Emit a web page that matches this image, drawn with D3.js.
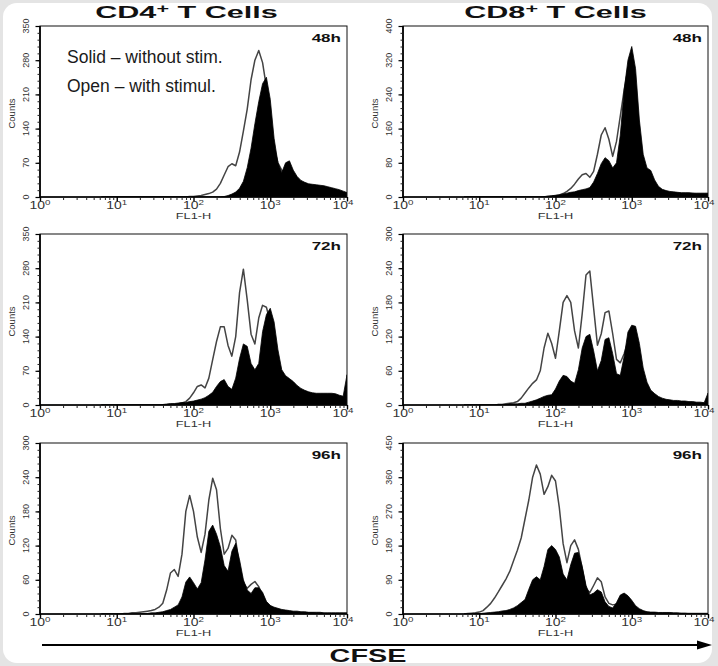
<!DOCTYPE html>
<html>
<head>
<meta charset="utf-8">
<script src="https://cdn.jsdelivr.net/npm/d3@7"></script>
<style>
  body { margin: 0; background: #e4e4e4; }
  svg text { font-family: "Liberation Sans", Arial, Helvetica, sans-serif; }
</style>
</head>
<body>
<div id="chart"></div>
<script>
// FL1-H histogram bins, log10 scale from 10^0.8 to 10^4 in 0.05 steps
const binLog = d3.range(0, 65).map(i => 0.8 + i * 0.05);

// Counts per bin (open = with stimulation, solid = without stimulation)
const cd4_48h_open = [
  0,0,0,0,0,0,0,0,0,0,
  0,0,0,0,0,0,0,0,0,0,
  0,0,0,1,1,2,3,5,7,10,
  16,28,45,62,68,64,92,135,180,240,
  280,300,275,225,160,100,70,55,45,35,
  28,22,20,18,16,14,13,12,11,10,
  9,8,7,6,5];
const cd4_48h_solid = [
  0,0,0,0,0,0,0,0,0,0,
  0,0,0,0,0,0,0,0,0,0,
  0,0,0,0,0,0,0,0,0,0,
  0,0,1,3,6,10,18,32,60,100,
  150,195,232,245,200,120,70,50,70,74,
  55,42,34,30,27,26,25,24,23,21,
  19,17,15,12,9];
const cd8_48h_open = [
  0,0,0,0,0,0,0,0,0,0,
  0,0,0,0,0,0,0,0,0,0,
  0,0,1,2,3,5,8,13,20,30,
  42,52,55,46,60,100,145,162,135,95,
  130,190,250,300,330,260,150,80,50,35,
  25,18,14,12,10,9,9,8,8,8,
  8,7,7,7,7];
const cd8_48h_solid = [
  0,0,0,0,0,0,0,0,0,0,
  0,0,0,0,0,0,0,0,0,0,
  0,1,2,3,4,5,7,9,11,12,
  15,17,19,22,35,55,78,92,85,68,
  80,145,250,320,352,300,180,100,68,62,
  40,25,18,15,13,12,11,10,10,10,
  9,9,9,9,9];
const cd4_72h_open = [
  0,0,0,0,0,0,0,0,0,0,
  0,0,0,0,0,0,0,0,0,1,
  2,4,7,14,25,38,41,35,55,93,
  130,160,160,122,100,140,230,278,215,145,
  125,178,204,200,170,120,80,55,42,35,
  28,24,20,18,16,15,14,13,13,12,
  12,12,11,11,11];
const cd4_72h_solid = [
  0,0,0,0,0,0,0,0,0,0,
  0,0,0,0,0,0,1,2,3,3,
  4,5,5,7,8,10,12,15,20,26,
  38,48,52,38,32,55,95,125,120,85,
  72,85,150,185,198,170,113,72,60,54,
  48,40,34,30,27,25,24,24,24,24,
  24,23,20,18,62];
const cd8_72h_open = [
  0,0,0,0,0,0,0,0,0,1,
  1,2,3,4,6,12,21,30,38,44,
  60,100,126,108,82,130,180,192,180,130,
  100,160,228,235,170,105,125,162,165,125,
  80,74,90,110,115,100,70,40,25,18,
  12,9,7,6,5,5,4,4,4,4,
  3,3,3,3,3];
const cd8_72h_solid = [
  0,0,0,0,0,0,0,0,0,1,
  1,1,2,2,2,3,3,5,7,9,
  12,15,17,18,28,42,52,50,42,38,
  62,100,120,124,95,60,78,115,118,90,
  55,52,85,128,140,138,108,65,40,26,
  20,15,12,10,9,8,8,7,7,6,
  6,5,5,4,21];
const cd4_96h_open = [
  0,0,0,0,0,0,1,1,2,2,
  3,4,5,6,8,12,19,42,72,78,
  66,105,180,208,180,135,108,140,200,238,
  218,150,105,115,138,130,80,55,45,52,
  57,48,33,20,14,10,7,6,5,4,
  3,3,2,2,2,2,1,1,1,1,
  1,1,1,1,1];
const cd4_96h_solid = [
  0,0,0,0,0,0,0,0,0,0,
  0,1,1,2,2,3,4,6,8,12,
  16,30,56,65,55,44,55,95,145,156,
  140,118,85,75,110,124,95,60,42,36,
  46,46,38,22,15,12,10,8,7,6,
  5,5,4,4,3,3,3,3,2,2,
  2,2,2,2,2];
const cd8_96h_open = [
  0,1,2,3,5,9,18,28,42,58,
  75,92,112,140,168,200,250,300,360,392,
  368,315,335,365,350,280,185,135,180,195,
  170,120,68,56,75,95,85,45,28,24,
  26,29,28,20,12,9,7,5,4,3,
  3,2,2,2,2,1,1,1,1,1,
  1,1,1,1,1];
const cd8_96h_solid = [
  0,0,0,1,1,2,3,4,5,6,
  8,9,12,16,22,30,38,65,90,98,
  90,125,170,180,170,150,105,90,130,160,
  162,125,75,50,55,64,58,32,20,16,
  30,50,55,48,36,22,14,9,6,5,
  5,4,4,4,4,3,3,2,2,1,
  1,1,0,0,0];

// y tick labels per panel
const cd4_48h_ticks = [0, 70, 140, 210, 280, 350];
const cd8_48h_ticks = [0, 80, 160, 240, 320, 400];
const cd4_72h_ticks = [0, 70, 140, 210, 280, 350];
const cd8_72h_ticks = [0, 60, 120, 180, 240, 300];
const cd4_96h_ticks = [0, 60, 120, 180, 240, 300];
const cd8_96h_ticks = [0, 90, 180, 270, 360, 450];

const xTickExps = [0, 1, 2, 3, 4];
const cellTitles = ["CD4", "CD8"];
const timeLabels = ["48h", "72h", "96h"];
const legendLines = ["Solid \u2013 without stim.", "Open \u2013 with stimul."];

// layout
const width = 718, height = 666;
const colLeft = [40, 403], colRight = [347, 708];
const rowTop = [26, 234, 443], plotH = 171;

const panels = [
  { col: 0, row: 0, open: cd4_48h_open, solid: cd4_48h_solid, ticks: cd4_48h_ticks },
  { col: 1, row: 0, open: cd8_48h_open, solid: cd8_48h_solid, ticks: cd8_48h_ticks },
  { col: 0, row: 1, open: cd4_72h_open, solid: cd4_72h_solid, ticks: cd4_72h_ticks },
  { col: 1, row: 1, open: cd8_72h_open, solid: cd8_72h_solid, ticks: cd8_72h_ticks },
  { col: 0, row: 2, open: cd4_96h_open, solid: cd4_96h_solid, ticks: cd4_96h_ticks },
  { col: 1, row: 2, open: cd8_96h_open, solid: cd8_96h_solid, ticks: cd8_96h_ticks }
];

const svg = d3.select("#chart").append("svg")
  .attr("width", width)
  .attr("height", height);

svg.append("rect").attr("width", width).attr("height", height).attr("fill", "#e4e4e4");
svg.append("rect")
  .attr("x", 3).attr("y", 3)
  .attr("width", 709).attr("height", 660)
  .attr("rx", 14)
  .attr("fill", "#fff");

// stretched text helper (the source figure uses wide lettering)
function wideText(parent, x, y, sx) {
  return parent.append("text")
    .attr("transform", `translate(${x},${y}) scale(${sx},1)`);
}

// column titles
cellTitles.forEach((t, i) => {
  const cx = (colLeft[i] + colRight[i]) / 2 + (i === 0 ? -7 : 0);
  const txt = wideText(svg, cx, 18, 1.8)
    .attr("text-anchor", "middle")
    .attr("font-size", 17)
    .attr("font-weight", "bold")
    .attr("fill", "#111");
  txt.append("tspan").text(t);
  txt.append("tspan").text("+").attr("font-size", 12).attr("dy", -5);
  txt.append("tspan").text(" T Cells").attr("dy", 5);
});

panels.forEach((p, idx) => {
  const x0 = colLeft[p.col], x1 = colRight[p.col];
  const top = rowTop[p.row], bottom = top + plotH;
  const yMax = p.ticks[p.ticks.length - 1];

  const x = d3.scaleLog().domain([1, 1e4]).range([x0, x1]);
  const y = d3.scaleLinear().domain([0, yMax]).range([bottom, top]);

  const g = svg.append("g").attr("class", "panel");

  g.append("clipPath").attr("id", "clip" + idx)
    .append("rect")
    .attr("x", x0).attr("y", top)
    .attr("width", x1 - x0).attr("height", plotH);

  const plot = g.append("g").attr("clip-path", `url(#clip${idx})`);

  // open histogram (with stimulation)
  const line = d3.line()
    .x((d, i) => x(Math.pow(10, binLog[i])))
    .y(d => y(d));
  plot.append("path")
    .datum(p.open)
    .attr("d", line)
    .attr("fill", "none")
    .attr("stroke", "#444")
    .attr("stroke-width", 1.5)
    .attr("stroke-linejoin", "round");

  // solid histogram (without stimulation)
  const area = d3.area()
    .x((d, i) => x(Math.pow(10, binLog[i])))
    .y0(y(0))
    .y1(d => y(d));
  plot.append("path")
    .datum(p.solid)
    .attr("d", area)
    .attr("fill", "#000")
    .attr("stroke", "#000")
    .attr("stroke-width", 0.8);

  // frame
  g.append("rect")
    .attr("x", x0).attr("y", top)
    .attr("width", x1 - x0).attr("height", plotH)
    .attr("fill", "none")
    .attr("stroke", "#111")
    .attr("stroke-width", 1);
  g.append("path")
    .attr("d", `M${x0},${top}V${bottom}H${x1}`)
    .attr("fill", "none")
    .attr("stroke", "#000")
    .attr("stroke-width", 1.7);

  // y axis: major + minor ticks
  const step = p.ticks[1] - p.ticks[0];
  const yMinor = d3.range(0, yMax + 0.001, step / 5);
  g.append("g")
    .attr("transform", `translate(${x0},0)`)
    .call(d3.axisLeft(y).tickValues(yMinor).tickSize(2.5).tickFormat(""))
    .call(a => a.select(".domain").remove())
    .call(a => a.selectAll("line").attr("stroke", "#222"));
  g.append("g")
    .attr("transform", `translate(${x0},0)`)
    .call(d3.axisLeft(y).tickValues(p.ticks).tickSize(4.5).tickFormat(""))
    .call(a => a.select(".domain").remove())
    .call(a => a.selectAll("line").attr("stroke", "#000").attr("stroke-width", 1.2));

  p.ticks.forEach(t => {
    g.append("text")
      .attr("transform", `translate(${x0 - 11},${y(t)}) rotate(-90)`)
      .attr("text-anchor", "middle")
      .attr("font-size", 9)
      .attr("fill", "#333")
      .text(t);
  });

  g.append("text")
    .attr("transform", `translate(${x0 - 25},${(top + bottom) / 2 + 2}) rotate(-90)`)
    .attr("text-anchor", "middle")
    .attr("font-size", 9.5)
    .attr("fill", "#333")
    .text("Counts");

  // x axis: decades + minor 2..9
  const xMajor = xTickExps.map(e => Math.pow(10, e));
  const xMinor = [];
  xTickExps.slice(0, -1).forEach(e => {
    [2, 3, 4, 5, 6, 7, 8, 9].forEach(m => xMinor.push(m * Math.pow(10, e)));
  });
  g.append("g")
    .attr("transform", `translate(0,${bottom})`)
    .call(d3.axisBottom(x).tickValues(xMinor).tickSize(3).tickFormat(""))
    .call(a => a.select(".domain").remove())
    .call(a => a.selectAll("line").attr("stroke", "#222"));
  g.append("g")
    .attr("transform", `translate(0,${bottom})`)
    .call(d3.axisBottom(x).tickValues(xMajor).tickSize(4.5).tickFormat(""))
    .call(a => a.select(".domain").remove())
    .call(a => a.selectAll("line").attr("stroke", "#000").attr("stroke-width", 1.4));

  xTickExps.forEach((e, i) => {
    const shift = i === xTickExps.length - 1 ? -4 : 0;
    const t = wideText(g, x(Math.pow(10, e)) + shift, bottom + 12, 1.4)
      .attr("text-anchor", "middle")
      .attr("fill", "#333");
    t.append("tspan").attr("font-size", 10).text("10");
    t.append("tspan").attr("font-size", 7).attr("dy", -4).text(e);
  });

  wideText(g, (x0 + x1) / 2, bottom + 21.5, 1.5)
    .attr("text-anchor", "middle")
    .attr("font-size", 8.5)
    .attr("fill", "#333")
    .text("FL1-H");

  // time point label
  wideText(g, x1 - 6, top + 16, 1.55)
    .attr("text-anchor", "end")
    .attr("font-size", 11)
    .attr("font-weight", "bold")
    .attr("fill", "#111")
    .text(timeLabels[p.row]);

  if (idx === 0) {
    legendLines.forEach((l, i) => {
      g.append("text")
        .attr("x", x0 + 27)
        .attr("y", top + 37 + i * 29)
        .attr("font-size", 17.5)
        .attr("fill", "#1a1a1a")
        .text(l);
    });
  }
});

// CFSE arrow along the bottom
svg.append("line")
  .attr("x1", 42).attr("x2", 699)
  .attr("y1", 645).attr("y2", 645)
  .attr("stroke", "#000")
  .attr("stroke-width", 2.2);
svg.append("path")
  .attr("d", "M697,640.5L712,645L697,649.5Z")
  .attr("fill", "#000");

wideText(svg, 368, 662, 1.6)
  .attr("text-anchor", "middle")
  .attr("font-size", 18)
  .attr("font-weight", "bold")
  .attr("fill", "#111")
  .text("CFSE");
</script>
</body>
</html>
